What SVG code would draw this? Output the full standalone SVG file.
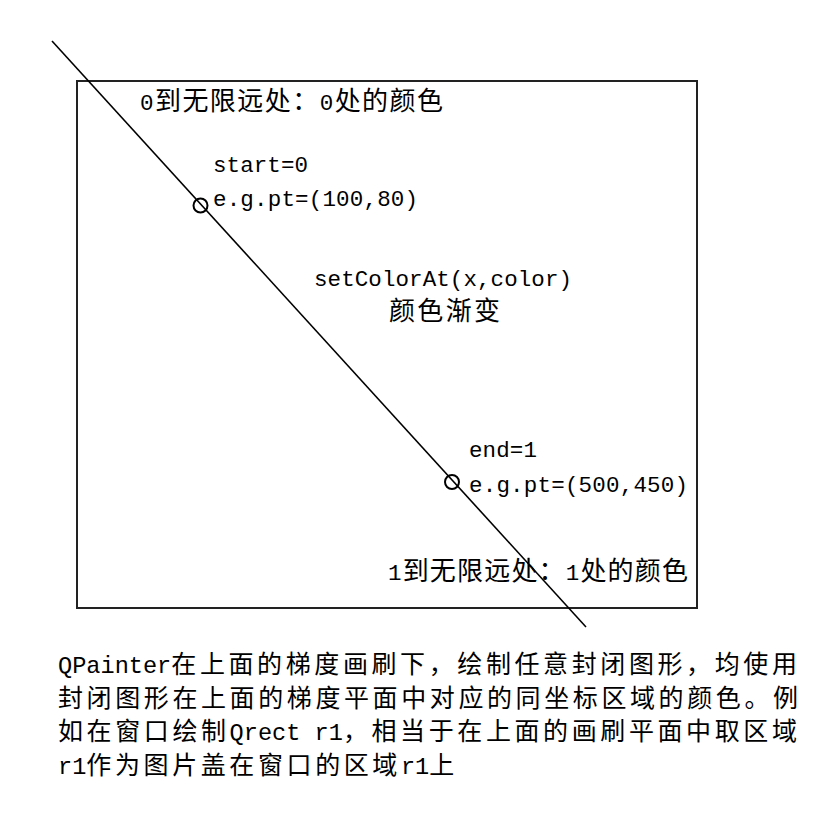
<svg xmlns="http://www.w3.org/2000/svg" width="826" height="814" viewBox="0 0 826 814">
<style>
text{font-family:"Noto Sans CJK SC","Noto Sans CJK JP",sans-serif;font-size:26px;fill:#000;}
.b{font-size:25px;letter-spacing:3.6px;}
.l{font-family:"Liberation Mono","DejaVu Sans Mono",monospace;font-size:22.5px;}
.bl{font-family:"Liberation Mono","DejaVu Sans Mono",monospace;font-size:23.6px;letter-spacing:0;}
.frame{fill:none;stroke:#222;stroke-width:2;}
.ln{fill:none;stroke:#000;stroke-width:1.6;}
.pt{fill:none;stroke:#000;stroke-width:2;}
</style>
<rect width="826" height="814" fill="#fff"/>
<g id="frame"><rect class="frame" x="77" y="81" width="620" height="527"/></g>
<g id="connectors"><line class="ln" x1="52" y1="41" x2="586" y2="627"/></g>
<g id="start-point"><circle class="pt" cx="200.5" cy="205.5" r="7"/></g>
<g id="end-point"><circle class="pt" cx="452" cy="482" r="7"/></g>
<g id="label-zero"><text x="140" y="110" textLength="303"><tspan class="l">0</tspan>到无限远处：<tspan class="l">0</tspan>处的颜色</text></g>
<g id="label-start">
<text class="l" x="213" y="172" textLength="95">start=0</text>
<text class="l" x="213" y="206" textLength="205">e.g.pt=(100,80)</text>
</g>
<g id="label-gradient">
<text class="l" x="314" y="286" textLength="258">setColorAt(x,color)</text>
<text x="389" y="320" textLength="111">颜色渐变</text>
</g>
<g id="label-end">
<text class="l" x="469" y="457" textLength="68">end=1</text>
<text class="l" x="469" y="492" textLength="219">e.g.pt=(500,450)</text>
</g>
<g id="label-one"><text x="388" y="580" textLength="300"><tspan class="l">1</tspan>到无限远处：<tspan class="l">1</tspan>处的颜色</text></g>
<g id="note">
<text class="b" x="58" y="673"><tspan class="bl">QPainter</tspan>在上面的梯度画刷下，绘制任意封闭图形，均使用</text>
<text class="b" x="58" y="707">封闭图形在上面的梯度平面中对应的同坐标区域的颜色。例</text>
<text class="b" x="58" y="740">如在窗口绘制<tspan class="bl">Qrect r1</tspan>，相当于在上面的画刷平面中取区域</text>
<text class="b" x="58" y="774"><tspan class="bl">r1</tspan>作为图片盖在窗口的区域<tspan class="bl">r1</tspan>上</text>
</g>
</svg>
